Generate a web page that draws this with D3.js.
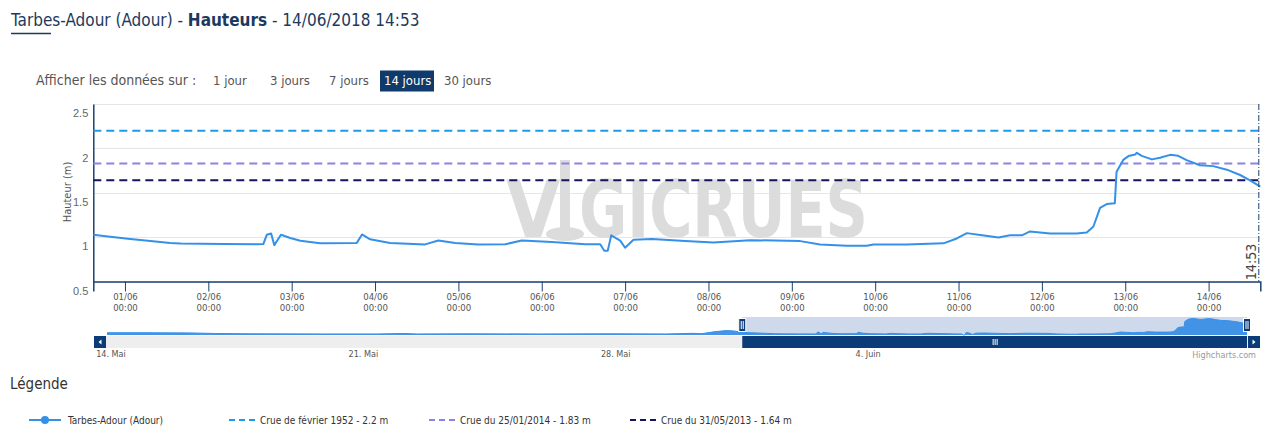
<!DOCTYPE html>
<html><head><meta charset="utf-8">
<script src="https://cdn.jsdelivr.net/npm/d3@7"></script>
<style>
body{margin:0;background:#fff;}
text{font-family:"Liberation Sans Narrow","DejaVu Sans Condensed","Open Sans",sans-serif;}
</style></head><body><svg id="c" width="1281" height="438"></svg>
<script>
const seriesName = "Tarbes-Adour (Adour)";
const mainTimes = ["2018-05-31T14:53","2018-05-31T19:45","2018-06-01T01:30","2018-06-01T07:20","2018-06-01T13:00","2018-06-01T16:00","2018-06-02T04:20","2018-06-02T14:00","2018-06-02T15:50","2018-06-02T16:50","2018-06-02T18:05","2018-06-02T19:00","2018-06-02T20:55","2018-06-02T23:35","2018-06-03T02:30","2018-06-03T08:10","2018-06-03T18:45","2018-06-03T20:15","2018-06-03T22:35","2018-06-04T04:20","2018-06-04T14:25","2018-06-04T18:15","2018-06-04T23:05","2018-06-05T05:40","2018-06-05T13:30","2018-06-05T18:15","2018-06-06T02:55","2018-06-06T12:30","2018-06-06T16:50","2018-06-06T18:00","2018-06-06T19:00","2018-06-06T20:00","2018-06-06T22:35","2018-06-07T00:00","2018-06-07T02:25","2018-06-07T07:40","2018-06-07T17:15","2018-06-08T01:25","2018-06-08T12:00","2018-06-09T02:25","2018-06-09T08:10","2018-06-09T15:50","2018-06-09T21:35","2018-06-09T23:30","2018-06-10T09:05","2018-06-10T19:40","2018-06-10T23:30","2018-06-11T02:25","2018-06-11T06:15","2018-06-11T11:30","2018-06-11T14:50","2018-06-11T18:15","2018-06-11T20:35","2018-06-12T02:20","2018-06-12T10:00","2018-06-12T12:55","2018-06-12T14:50","2018-06-12T16:45","2018-06-12T18:40","2018-06-12T21:00","2018-06-12T21:30","2018-06-12T23:25","2018-06-13T00:55","2018-06-13T02:50","2018-06-13T03:20","2018-06-13T04:45","2018-06-13T07:40","2018-06-13T10:00","2018-06-13T12:55","2018-06-13T15:15","2018-06-13T17:40","2018-06-13T21:30","2018-06-14T01:20","2018-06-14T05:15","2018-06-14T09:05","2018-06-14T11:55","2018-06-14T14:53"];
const mainValues = [1.026,1.003,0.98,0.955,0.935,0.928,0.922,0.92,0.922,1.026,1.04,0.91,1.026,0.99,0.96,0.93,0.935,1.03,0.975,0.935,0.918,0.962,0.935,0.918,0.92,0.962,0.944,0.92,0.92,0.846,0.846,1.02,0.96,0.88,0.97,0.98,0.955,0.94,0.966,0.955,0.918,0.902,0.902,0.918,0.918,0.93,0.985,1.045,1.025,0.997,1.02,1.02,1.064,1.04,1.04,1.053,1.12,1.33,1.372,1.383,1.736,1.87,1.913,1.93,1.95,1.916,1.876,1.895,1.927,1.916,1.867,1.81,1.8,1.76,1.7,1.64,1.57];
const earlyTimes = ["2018-05-14T00:00","2018-05-15T00:00","2018-05-16T06:00","2018-05-17T00:00","2018-05-18T00:00","2018-05-20T00:00","2018-05-21T12:00","2018-05-22T06:00","2018-05-22T14:00","2018-05-24T00:00","2018-05-26T00:00","2018-05-28T00:00","2018-05-29T12:00","2018-05-30T06:00","2018-05-30T12:00","2018-05-30T20:00","2018-05-31T04:00","2018-05-31T09:00"];
const earlyValues = [1.0,1.0,0.99,0.95,0.93,0.92,0.92,0.95,0.92,0.93,0.92,0.93,0.92,0.96,0.94,1.06,1.14,1.12];
const thresholdNames = ["Crue de février 1952 - 2.2 m","Crue du 25/01/2014 - 1.83 m","Crue du 31/05/2013 - 1.64 m"];
const thresholdValues = [2.2, 1.83, 1.64];
const yTicks = [0.5, 1, 1.5, 2, 2.5];
const rangeButtons = ["1 jour","3 jours","7 jours","14 jours","30 jours"];
const navTickTimes = ["2018-05-14T00:00","2018-05-21T00:00","2018-05-28T00:00","2018-06-04T00:00"];
const navTickLabels = ["14. Mai","21. Mai","28. Mai","4. Juin"];
const viewStart = "2018-05-31T14:53", viewEnd = "2018-06-14T14:53", navStart = "2018-05-14T00:00";

// styles
const lineColor = "#3591e8";
const thresholdColors = ["#1e9ae8", "#8a84e6", "#14145e"];
const navy = "#0c3c78";
const axisColor = "#1d416f";

const parse = d3.timeParse("%Y-%m-%dT%H:%M");
const main = mainTimes.map((t,i)=>({t:parse(t), v:mainValues[i]}));
const nav = earlyTimes.map((t,i)=>({t:parse(t), v:earlyValues[i]})).concat(main);

const svg = d3.select("#c");

// Title
const title = svg.append("text").attr("x",11).attr("y",26).attr("fill","#1b3a5e").style("font-size","17px");
title.append("tspan").text("Tarbes-Adour (Adour) - ");
title.append("tspan").attr("font-weight","bold").text("Hauteurs");
title.append("tspan").text(" - 14/06/2018 14:53");
svg.append("line").attr("x1",11).attr("x2",51).attr("y1",33.5).attr("y2",33.5).attr("stroke","#1b3a5e").attr("stroke-width",1.5);

// Range buttons
svg.append("text").attr("x",36).attr("y",85).attr("fill","#555").style("font-size","14px").text("Afficher les données sur :");
const btnX = [213, 270, 329, 384, 444];
rangeButtons.forEach((b,i)=>{
  if (i===3) svg.append("rect").attr("x",380).attr("y",70.5).attr("width",54).attr("height",21).attr("fill","#0f3a6b");
  svg.append("text").attr("x",btnX[i]).attr("y",85).attr("fill", i===3?"#fff":"#555").style("font-size","13px").text(b);
});

// Main plot
const x = d3.scaleTime().domain([parse(viewStart), parse(viewEnd)]).range([93.3, 1260.3]);
const y = d3.scaleLinear().domain([0.5, 2.5]).range([281.5, 104]);

const g = svg.append("g");
// grid
g.selectAll(".grid").data(yTicks).join("line")
  .attr("x1",93.3).attr("x2",1260).attr("y1",d=>Math.round(y(d))+0.5).attr("y2",d=>Math.round(y(d))+0.5)
  .attr("stroke","#e6e6e6").attr("stroke-width",1);

// watermark
const wm = g.append("g").attr("fill","#dcdcdc");
wm.append("text").attr("x",506).attr("y",237).attr("font-weight","bold").style("font-size","78px").text("V");
wm.append("rect").attr("x",560).attr("y",160).attr("width",10).attr("height",68);
wm.append("ellipse").attr("cx",565).attr("cy",234).attr("rx",19).attr("ry",7);
wm.append("text").attr("x",579).attr("y",237).attr("font-weight","bold").style("font-size","78px")
  .attr("textLength",289).attr("lengthAdjust","spacingAndGlyphs").text("GICRUES");

// y axis
const yAxis = d3.axisLeft(y).tickValues(yTicks).tickSize(0).tickFormat(d3.format("~g"));
const ya = g.append("g").attr("transform","translate(93.3,0)").call(yAxis);
ya.select(".domain").attr("stroke",axisColor).attr("stroke-width",1.5);
ya.selectAll("text").attr("x",-5).attr("dy","1.15em").attr("fill","#666").style("font-size","11px").style("font-family","inherit");
g.append("text").attr("transform","translate(71,192) rotate(-90)").attr("text-anchor","middle")
  .attr("fill","#555").style("font-size","11px").text("Hauteur (m)");

// x axis
const xTicks = d3.timeDay.range(parse("2018-06-01T00:00"), parse("2018-06-15T00:00"));
const xAxis = d3.axisBottom(x).tickValues(xTicks).tickSize(10).tickFormat("");
const xa = g.append("g").attr("transform","translate(0,281.5)").call(xAxis);
xa.select(".domain").attr("stroke",axisColor).attr("stroke-width",1.5);
xa.selectAll(".tick line").attr("stroke",axisColor);
const fmtD = d3.timeFormat("%d/%m"), fmtH = d3.timeFormat("%H:%M");
xa.selectAll(".tick").each(function(d){
  const t = d3.select(this);
  t.append("text").attr("y",18).attr("fill","#555").attr("text-anchor","middle").style("font-size","9.5px").text(fmtD(d));
  t.append("text").attr("y",29).attr("fill","#555").attr("text-anchor","middle").style("font-size","9.5px").text(fmtH(d));
});

// threshold lines
thresholdValues.forEach((v,i)=>{
  g.append("line").attr("x1",93.3).attr("x2",1260).attr("y1",y(v)).attr("y2",y(v))
    .attr("stroke",thresholdColors[i]).attr("stroke-width",2).attr("stroke-dasharray","8,5");
});

// series
const line = d3.line().x(d=>x(d.t)).y(d=>y(d.v));
g.append("path").datum(main).attr("d",line).attr("fill","none").attr("stroke",lineColor).attr("stroke-width",2).attr("stroke-linejoin","round");

// now line
const nowX = x(parse(viewEnd)) - 1.5;
g.append("line").attr("x1",nowX).attr("x2",nowX).attr("y1",104).attr("y2",281.5)
  .attr("stroke","#1d416f").attr("stroke-width",1).attr("stroke-dasharray","6,2,1,2");
g.append("text").attr("transform",`translate(${nowX-3},280) rotate(-90)`).attr("fill","#444").style("font-size","14px").text("14:53");

// Navigator
const nx = d3.scaleTime().domain([parse(navStart), parse(viewEnd)]).range([107, 1247]);
const ny = d3.scaleLinear().domain([0.85, 1.97]).range([335, 318]);
const nv = svg.append("g");
const selX0 = nx(parse(viewStart)), selX1 = nx(parse(viewEnd));
nv.append("rect").attr("x",selX0).attr("y",317).attr("width",selX1-selX0).attr("height",18).attr("fill","#cfd9ec");
const navGrid = d3.timeWeek.range(parse(navStart), parse(viewEnd), 1).filter(d=>d.getDay()===1);
nv.selectAll(".ng").data(navGrid).join("line").attr("x1",d=>Math.round(nx(d))+0.5).attr("x2",d=>Math.round(nx(d))+0.5)
  .attr("y1",317).attr("y2",335).attr("stroke","#e0e0e0");
const area = d3.area().x(d=>nx(d.t)).y0(335).y1(d=>ny(d.v));
nv.append("path").datum(nav).attr("d",area).attr("fill","#3a8fe6").attr("fill-opacity",0.95);
nv.append("path").datum(nav).attr("d",d3.line().x(d=>nx(d.t)).y(d=>ny(d.v))).attr("fill","none").attr("stroke","#3591e8").attr("stroke-width",1);
// handles
[selX0, selX1].forEach(hx=>{
  nv.append("rect").attr("x",hx-3.5).attr("y",318.5).attr("width",7).attr("height",13).attr("fill",navy).attr("stroke","#fff").attr("stroke-width",1);
  nv.append("line").attr("x1",hx-1).attr("x2",hx-1).attr("y1",321).attr("y2",329).attr("stroke","#fff");
  nv.append("line").attr("x1",hx+1).attr("x2",hx+1).attr("y1",321).attr("y2",329).attr("stroke","#fff");
});
// scrollbar
nv.append("rect").attr("x",94).attr("y",336).attr("width",1166).attr("height",12).attr("fill","#eeeeee");
nv.append("rect").attr("x",selX0).attr("y",336).attr("width",selX1-selX0).attr("height",12).attr("fill",navy);
const gripX = (selX0+selX1)/2;
[-2,0,2].forEach(o=>nv.append("line").attr("x1",gripX+o+0.5).attr("x2",gripX+o+0.5).attr("y1",339).attr("y2",345).attr("stroke","#fff"));
nv.append("rect").attr("x",94).attr("y",336).attr("width",12).attr("height",12).attr("fill",navy);
nv.append("rect").attr("x",1248).attr("y",336).attr("width",12).attr("height",12).attr("fill",navy);
nv.append("path").attr("d","M98.5,342 L101.5,339.5 L101.5,344.5 Z").attr("fill","#fff");
nv.append("path").attr("d","M1255.5,342 L1252.5,339.5 L1252.5,344.5 Z").attr("fill","#fff");
// nav labels
navTickTimes.forEach((t,i)=>{
  nv.append("text").attr("x",nx(parse(t))+4).attr("y",357).attr("text-anchor","middle").attr("fill","#555").style("font-size","9px").text(navTickLabels[i]);
});
svg.append("text").attr("x",1256).attr("y",358).attr("text-anchor","end").attr("fill","#999").style("font-size","9px").text("Highcharts.com");

// Legend
svg.append("text").attr("x",10).attr("y",389).attr("fill","#333").style("font-size","15px").text("Légende");
const lg = svg.append("g");
lg.append("line").attr("x1",29).attr("x2",61).attr("y1",420).attr("y2",420).attr("stroke",lineColor).attr("stroke-width",2);
lg.append("circle").attr("cx",45).attr("cy",420).attr("r",4).attr("fill",lineColor);
lg.append("text").attr("x",68).attr("y",423.5).attr("fill","#333").style("font-size","10px").text(seriesName);
const legX = [229, 429, 630];
thresholdNames.forEach((n,i)=>{
  lg.append("line").attr("x1",legX[i]).attr("x2",legX[i]+27).attr("y1",420).attr("y2",420)
    .attr("stroke",thresholdColors[i]).attr("stroke-width",2).attr("stroke-dasharray","6,4");
  lg.append("text").attr("x",legX[i]+31).attr("y",423.5).attr("fill","#333").style("font-size","10px").text(n);
});
</script></body></html>
